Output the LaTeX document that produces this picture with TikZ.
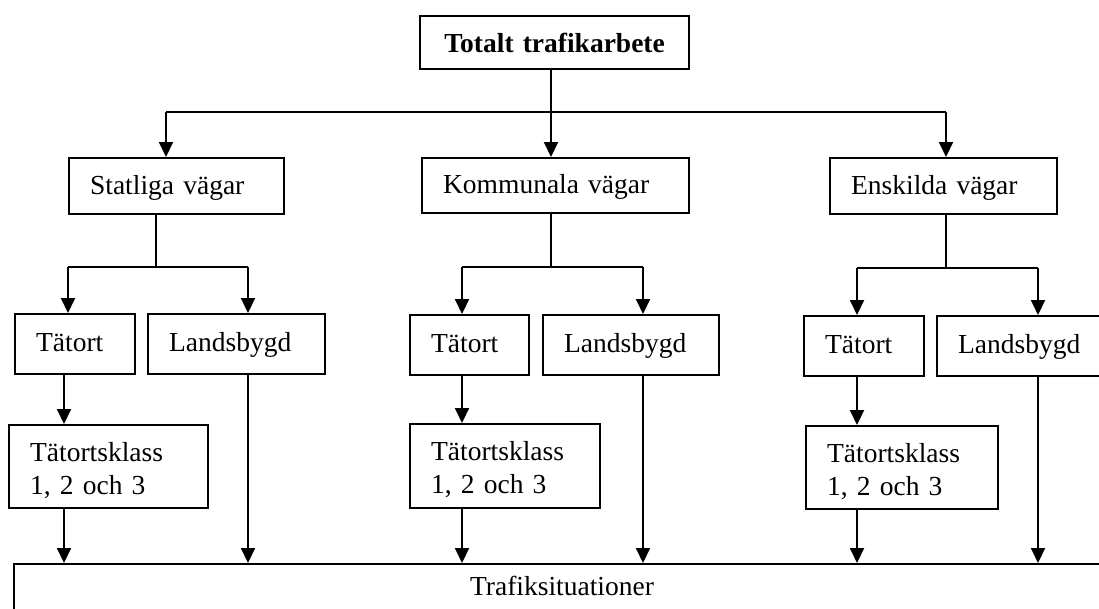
\documentclass[tikz,border=0pt]{standalone}
\usepackage{fontspec}
\setmainfont{Liberation Serif}
\usetikzlibrary{arrows.meta}
\begin{document}
\begin{tikzpicture}[x=1pt,y=-1pt,
  box/.style={draw=black, line width=2.2pt, anchor=north west, inner xsep=21pt, inner ysep=0pt,
    align=left, font=\fontsize{27.5}{33}\selectfont, text height=21pt, text depth=7pt},
  twoline/.style={text height=29pt, text depth=40pt},
  conn/.style={line width=2pt},
  arr/.style={conn, -{Triangle[width=14pt,length=15pt]}}]
\useasboundingbox (0,0) rectangle (1099,608);
\clip (0,0) rectangle (1099,608);

% level 0
\node[box, align=center, text width=227pt, minimum height=53pt, text height=24pt, text depth=5pt,
  font=\fontsize{27.5}{33}\selectfont\bfseries] (top) at (419,15) {Totalt trafikarbete};

% level 1
\node[box, text width=173pt, minimum height=56pt, text height=22pt, text depth=6pt] (stat) at (68,157) {Statliga vägar};
\node[box, text width=225pt, minimum height=55pt, text height=22pt, text depth=6pt] (komm) at (421,157) {Kommunala vägar};
\node[box, text width=185pt, minimum height=56pt, text height=22pt, text depth=6pt] (ensk) at (829,157) {Enskilda vägar};

% level 2
\node[box, text width=78pt, minimum height=60pt] (sT) at (14,313) {Tätort};
\node[box, text width=135pt, minimum height=60pt] (sL) at (147,313) {Landsbygd};
\node[box, text width=77pt, minimum height=60pt] (kT) at (409,314) {Tätort};
\node[box, text width=134pt, minimum height=60pt] (kL) at (542,314) {Landsbygd};
\node[box, text width=78pt, minimum height=60pt] (eT) at (803,315) {Tätort};
\node[box, text width=132pt, minimum height=60pt] (eL) at (936,315) {Landsbygd};

% level 3
\node[box, twoline, text width=157pt, minimum height=83pt] (sK) at (8,424) {Tätortsklass\\1, 2 och 3};
\node[box, twoline, text width=148pt, minimum height=84pt] (kK) at (409,423) {Tätortsklass\\1, 2 och 3};
\node[box, twoline, text width=150pt, minimum height=83pt] (eK) at (805,425) {Tätortsklass\\1, 2 och 3};

% bottom
\node[box, anchor=north, align=center, inner xsep=0pt, minimum width=1096pt,
  text height=31pt, text depth=40pt] (bot) at (562,563) {Trafiksituationer};

% junctions
\coordinate (j0) at (551,112);
\coordinate (jS) at (166,112);
\coordinate (jE) at (946,112);
\coordinate (s0) at (156,267);
\coordinate (s1) at (68,267);
\coordinate (s2) at (248,267);
\coordinate (k0) at (551,267);
\coordinate (k1) at (462,267);
\coordinate (k2) at (643,267);
\coordinate (e0) at (946,268);
\coordinate (e1) at (857,268);
\coordinate (e2) at (1038,268);
\coordinate (sv) at (64,0);

% top tree
\draw[conn] (j0 |- top.south) -- (j0);
\draw[conn] (jS) -- (jE);
\draw[arr] (jS) -- (jS |- stat.north);
\draw[arr] (j0) -- (j0 |- komm.north);
\draw[arr] (jE) -- (jE |- ensk.north);

% Statliga
\draw[conn] (s0 |- stat.south) -- (s0);
\draw[conn] (s1) -- (s2);
\draw[arr] (s1) -- (s1 |- sT.north);
\draw[arr] (s2) -- (s2 |- sL.north);
\draw[arr] (sv |- sT.south) -- (sv |- sK.north);
\draw[arr] (sv |- sK.south) -- (sv |- bot.north);
\draw[arr] (s2 |- sL.south) -- (s2 |- bot.north);

% Kommunala
\draw[conn] (k0 |- komm.south) -- (k0);
\draw[conn] (k1) -- (k2);
\draw[arr] (k1) -- (k1 |- kT.north);
\draw[arr] (k2) -- (k2 |- kL.north);
\draw[arr] (k1 |- kT.south) -- (k1 |- kK.north);
\draw[arr] (k1 |- kK.south) -- (k1 |- bot.north);
\draw[arr] (k2 |- kL.south) -- (k2 |- bot.north);

% Enskilda
\draw[conn] (e0 |- ensk.south) -- (e0);
\draw[conn] (e1) -- (e2);
\draw[arr] (e1) -- (e1 |- eT.north);
\draw[arr] (e2) -- (e2 |- eL.north);
\draw[arr] (e1 |- eT.south) -- (e1 |- eK.north);
\draw[arr] (e1 |- eK.south) -- (e1 |- bot.north);
\draw[arr] (e2 |- eL.south) -- (e2 |- bot.north);
\end{tikzpicture}
\end{document}
